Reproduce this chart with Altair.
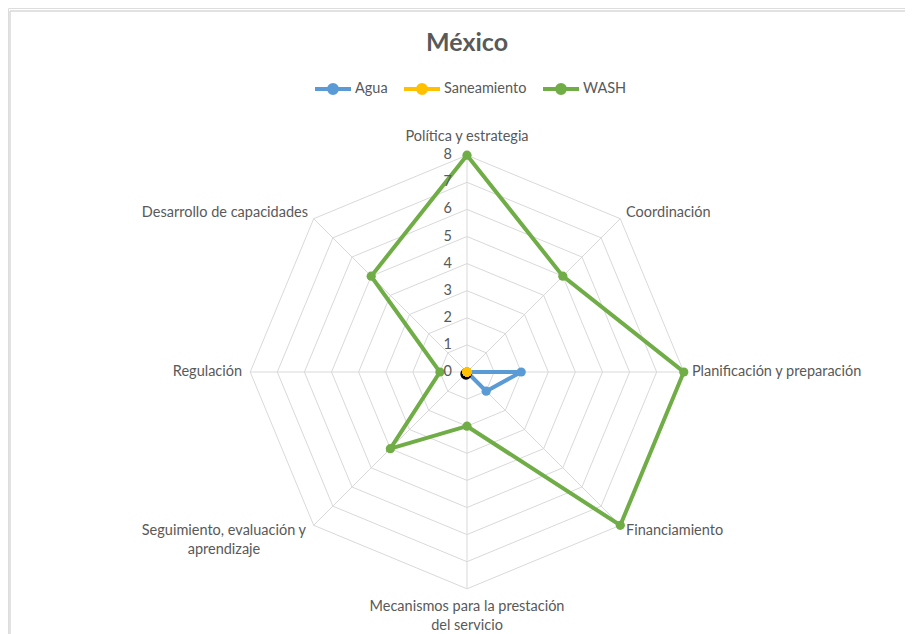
import math
import altair as alt
import pandas as pd

# ---- data ----
categorias = [
    "Política y estrategia",
    "Coordinación",
    "Planificación y preparación",
    "Financiamiento",
    "Mecanismos para la prestación\ndel servicio",
    "Seguimiento, evaluación y\naprendizaje",
    "Regulación",
    "Desarrollo de capacidades",
]
agua = [0, 0, 2, 1, 0, 0, 0, 0]
saneamiento = [0, 0, 0, 0, 0, 0, 0, 0]
wash = [8, 5, 8, 8, 2, 4, 1, 5]
series = ["Agua", "Saneamiento", "WASH"]
colores = ["#5B9BD5", "#FFC000", "#70AD47"]
niveles = [0, 1, 2, 3, 4, 5, 6, 7, 8]
titulo = "México"

N = len(categorias)
RMAX = 8
K = 27.1  # px per unit
W, H = 897, 626
CX, CY = 459, 364

xs = alt.Scale(domain=[-CX / K, (W - CX) / K], nice=False, zero=False)
ys = alt.Scale(domain=[-(H - CY) / K, CY / K], nice=False, zero=False)


def ang(i):
    return 2 * math.pi * i / N


# series polygon data
rows = []
for name, vals in zip(series, [agua, saneamiento, wash]):
    for j in range(N + 1):
        i = j % N
        v = vals[i]
        rows.append({"serie": name, "orden": j, "cat": categorias[i], "valor": v,
                     "x": v * math.sin(ang(i)), "y": v * math.cos(ang(i)),
                     "cierre": j == N})
df = pd.DataFrame(rows)

# grid rings
grid = []
for lv in niveles[1:]:
    for j in range(N + 1):
        i = j % N
        grid.append({"nivel": lv, "orden": j, "x": lv * math.sin(ang(i)), "y": lv * math.cos(ang(i))})
gdf = pd.DataFrame(grid)

spokes = pd.DataFrame([{"x": 0, "y": 0, "x2": RMAX * math.sin(ang(i)), "y2": RMAX * math.cos(ang(i))}
                       for i in range(N)])

ticks = pd.DataFrame({"nivel": niveles, "x": [0] * len(niveles), "y": niveles,
                      "txt": [str(n) for n in niveles]})


def lab_df(idx, r):
    return pd.DataFrame([{"txt": categorias[i], "x": r * math.sin(ang(i)), "y": r * math.cos(ang(i))}
                         for i in idx])


X = lambda f="x": alt.X(f"{f}:Q", scale=xs, axis=None)
Y = lambda f="y": alt.Y(f"{f}:Q", scale=ys, axis=None)

FONT = "Lato"
FS = 14.5
GRAY = "#595959"
GRID = "#D9D9D9"

ring_layer = alt.Chart(gdf).mark_line(color=GRID, strokeWidth=1).encode(
    x=X(), y=Y(), detail="nivel:N", order="orden:Q")
spoke_layer = alt.Chart(spokes).mark_rule(color=GRID, strokeWidth=1).encode(
    x=X(), y=Y(), x2="x2:Q", y2="y2:Q")
tick_layer = alt.Chart(ticks).mark_text(align="right", baseline="middle", dx=-15,
                                        font=FONT, fontSize=FS, color=GRAY).encode(
    x=X(), y=Y(), text="txt:N")

lab_top = alt.Chart(lab_df([0], 8.42)).mark_text(align="center", baseline="bottom",
                                                  font=FONT, fontSize=FS, color=GRAY).encode(
    x=X(), y=Y(), text="txt:N")
lab_left = alt.Chart(lab_df([1, 2, 3], 8.3)).mark_text(align="left", baseline="middle",
                                                        font=FONT, fontSize=FS, color=GRAY).encode(
    x=X(), y=Y(), text="txt:N")
lab_bottom = alt.Chart(lab_df([4], 8.4)).mark_text(align="center", baseline="top", lineBreak="\n",
                                                    lineHeight=19, font=FONT, fontSize=FS,
                                                    color=GRAY).encode(
    x=X(), y=Y(), text="txt:N")
lab_seg = alt.Chart(lab_df([5], 8.3)).mark_text(align="center", baseline="middle", lineBreak="\n",
                                                 lineHeight=19, dx=-84, font=FONT, fontSize=FS,
                                                 color=GRAY).encode(
    x=X(), y=Y(), text="txt:N")
lab_right = alt.Chart(lab_df([6, 7], 8.3)).mark_text(align="right", baseline="middle",
                                                      font=FONT, fontSize=FS, color=GRAY).encode(
    x=X(), y=Y(), text="txt:N")

legend_symbol = ("M-1,0H1M0.22,0A0.22,0.22,0,1,1,-0.22,0A0.22,0.22,0,1,1,0.22,0Z")
color = alt.Color("serie:N", scale=alt.Scale(domain=series, range=colores),
                  legend=alt.Legend(title=None, orient="none", direction="horizontal",
                                    legendX=305, legendY=61, symbolType=legend_symbol,
                                    symbolSize=1296, symbolStrokeWidth=3.5,
                                    labelFont=FONT, labelFontSize=FS, labelColor=GRAY,
                                    labelOffset=2, columnPadding=8))

line_layer = alt.Chart(df).mark_line(strokeWidth=4).encode(
    x=X(), y=Y(), color=color, order="orden:Q",
    strokeWidth=alt.StrokeWidth("serie:N", scale=alt.Scale(domain=series, range=[4, 4, 4.5]),
                                legend=None))

shadow = alt.Chart(df[(df.serie == "Saneamiento") & (df.orden == 0)]).mark_circle(
    color="black", size=130, opacity=1).encode(
    x=X(), y=Y(), xOffset=alt.value(-1), yOffset=alt.value(2))

point_layer = alt.Chart(df[~df.cierre]).mark_circle(size=85, opacity=1).encode(
    x=X(), y=Y(), color=color)

title_layer = alt.Chart(pd.DataFrame({"t": [titulo]})).mark_text(
    align="center", baseline="middle", font=FONT, fontSize=25, fontWeight="bold", color=GRAY).encode(
    x=alt.value(459), y=alt.value(35), text="t:N")

frame_top = alt.Chart(pd.DataFrame({"a": [0]})).mark_rule(color=GRID, strokeWidth=1.5).encode(
    x=alt.value(2), x2=alt.value(W + 10), y=alt.value(3))
frame_left = alt.Chart(pd.DataFrame({"a": [0]})).mark_rule(color=GRID, strokeWidth=1.5).encode(
    x=alt.value(2), y=alt.value(3), y2=alt.value(H + 10))

chart = alt.layer(
    frame_top, frame_left,
    ring_layer, spoke_layer,
    line_layer, shadow, point_layer,
    tick_layer,
    lab_top, lab_left, lab_bottom, lab_seg, lab_right,
    title_layer,
).properties(
    width=W, height=H, autosize=alt.AutoSizeParams(type="none"), padding=0
).configure_view(stroke=None).configure(background="white")

chart.save("out.html", embed_options={"renderer": "svg", "actions": False})
